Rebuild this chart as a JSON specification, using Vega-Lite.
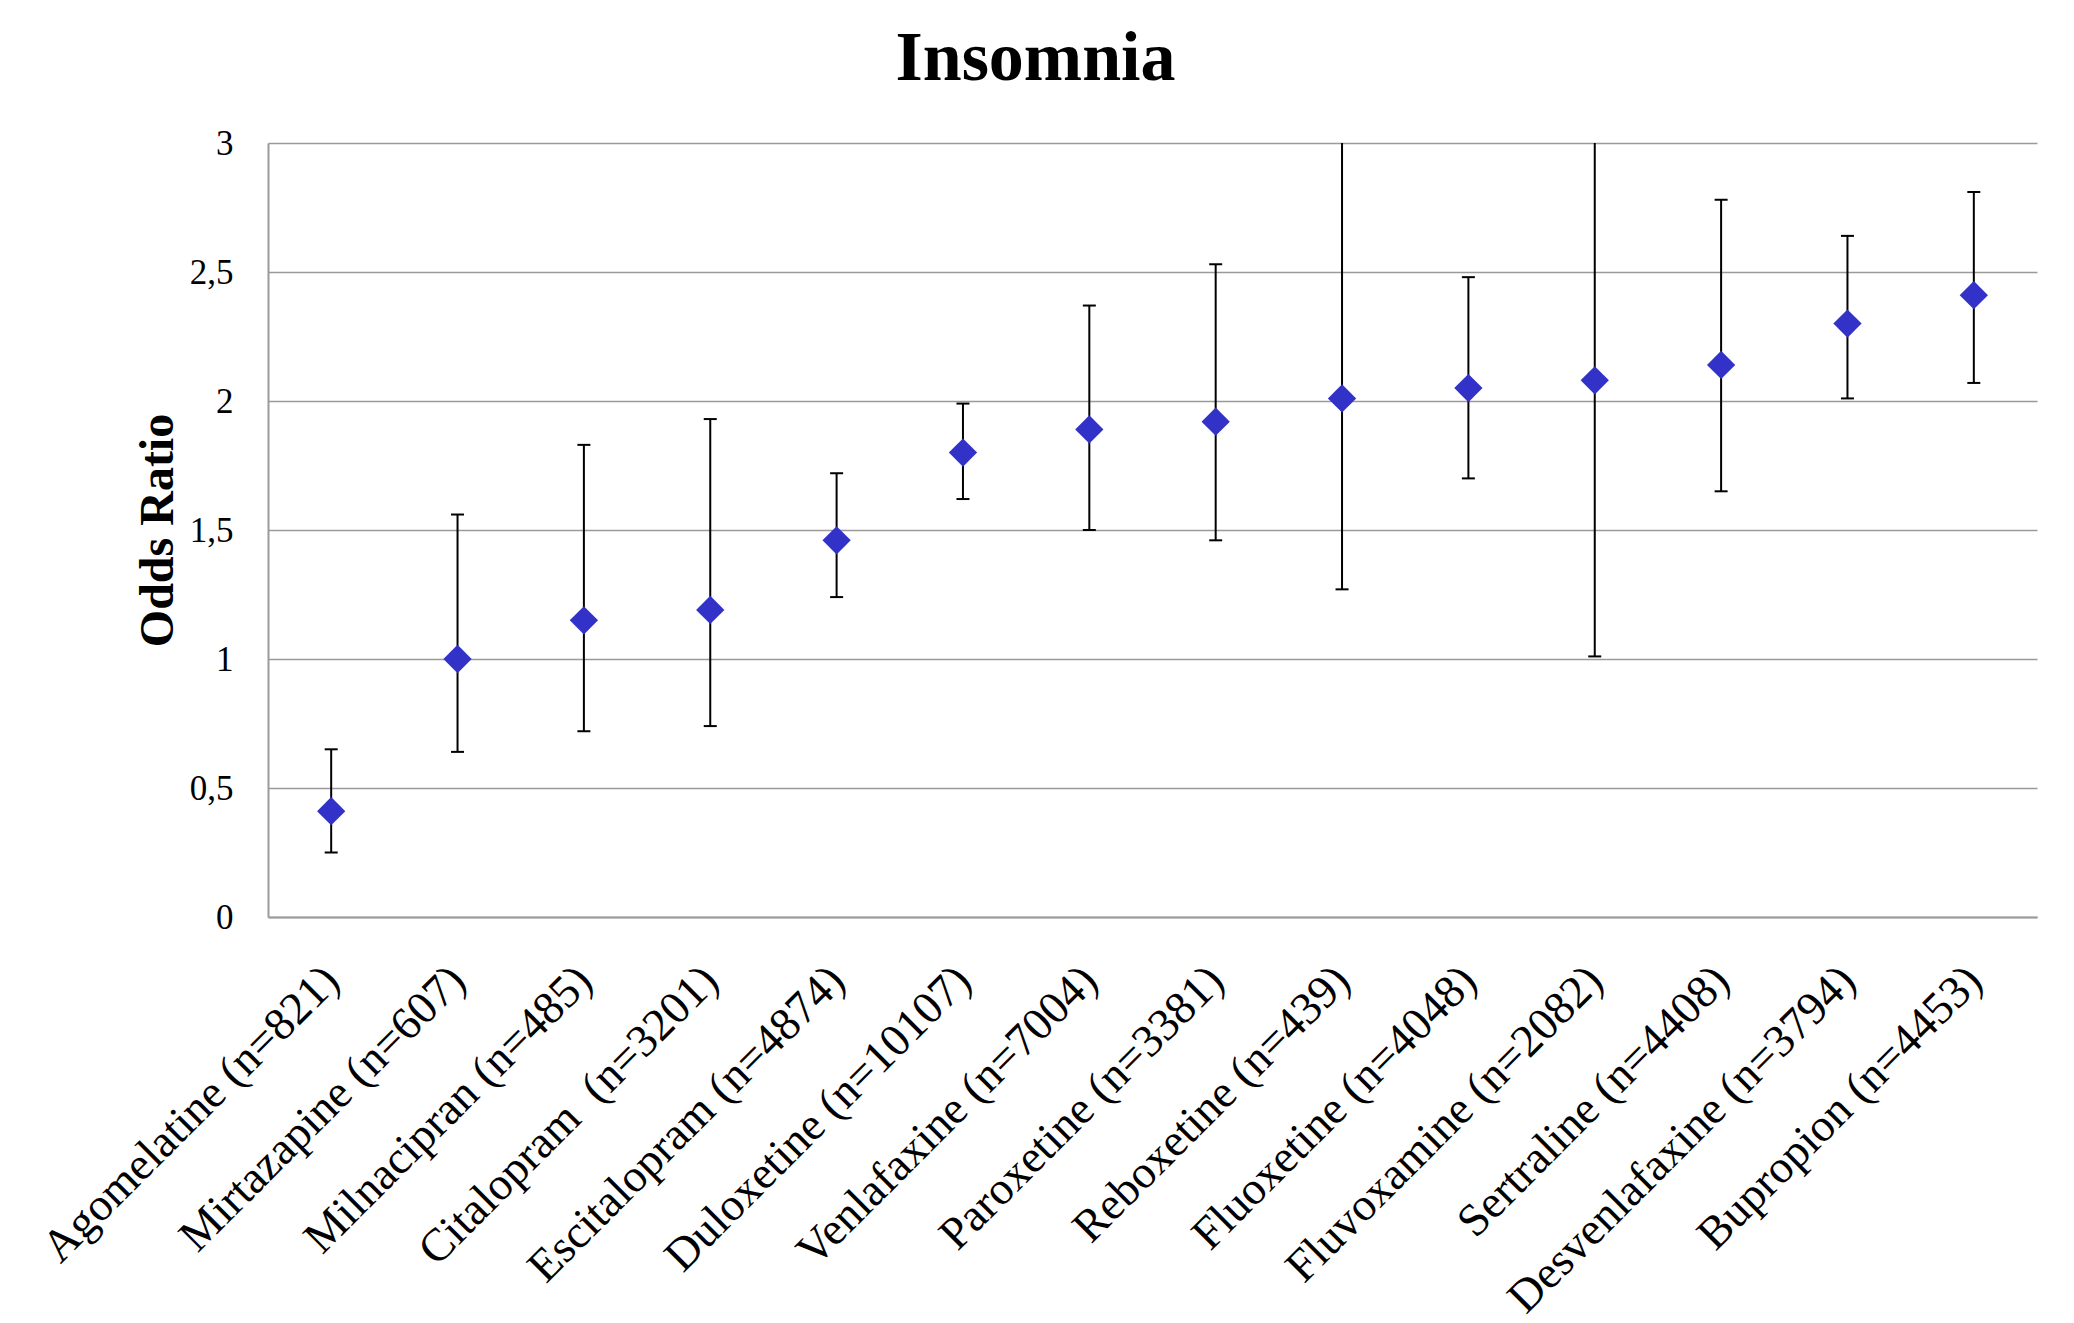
{
  "$schema": "https://vega.github.io/schema/vega-lite/v6.json",
  "autosize": {"type": "none"},
  "padding": {"left": 268, "top": 143, "right": 37, "bottom": 406},
  "width": 1769,
  "height": 774,
  "background": "white",
  "title": {
    "text": "Insomnia",
    "font": "Liberation Serif",
    "fontSize": 70,
    "fontWeight": "bold",
    "color": "black",
    "anchor": "middle",
    "baseline": "alphabetic",
    "offset": -24,
    "dx": -117
  },
  "config": {
    "view": {"stroke": null},
    "axis": {"labelFont": "Liberation Serif", "titleFont": "Liberation Serif"}
  },
  "data": {
    "values": [
      {"drug": "Agomelatine (n=821)", "or": 0.41, "lo": 0.25, "hi": 0.65},
      {"drug": "Mirtazapine (n=607)", "or": 1.00, "lo": 0.64, "hi": 1.56},
      {"drug": "Milnacipran (n=485)", "or": 1.15, "lo": 0.72, "hi": 1.83},
      {"drug": "Citalopram \u00a0(n=3201)", "or": 1.19, "lo": 0.74, "hi": 1.93},
      {"drug": "Escitalopram (n=4874)", "or": 1.46, "lo": 1.24, "hi": 1.72},
      {"drug": "Duloxetine (n=10107)", "or": 1.80, "lo": 1.62, "hi": 1.99},
      {"drug": "Venlafaxine (n=7004)", "or": 1.89, "lo": 1.50, "hi": 2.37},
      {"drug": "Paroxetine (n=3381)", "or": 1.92, "lo": 1.46, "hi": 2.53},
      {"drug": "Reboxetine (n=439)", "or": 2.01, "lo": 1.27, "hi": 3.18},
      {"drug": "Fluoxetine (n=4048)", "or": 2.05, "lo": 1.70, "hi": 2.48},
      {"drug": "Fluvoxamine (n=2082)", "or": 2.08, "lo": 1.01, "hi": 4.28},
      {"drug": "Sertraline (n=4408)", "or": 2.14, "lo": 1.65, "hi": 2.78},
      {"drug": "Desvenlafaxine (n=3794)", "or": 2.30, "lo": 2.01, "hi": 2.64},
      {"drug": "Bupropion (n=4453)", "or": 2.41, "lo": 2.07, "hi": 2.81}
    ]
  },
  "encoding": {
    "x": {
      "field": "drug",
      "type": "nominal",
      "sort": null,
      "scale": {"type": "point", "padding": 0.5},
      "axis": {
        "title": null,
        "labelAngle": -45,
        "labelAlign": "right",
        "labelBaseline": "middle",
        "labelFontSize": 46,
        "labelColor": "black",
        "labelPadding": 56,
        "labelLimit": 2000,
        "labelOverlap": false,
        "ticks": false,
        "domainColor": "#9a9a9a",
        "domainWidth": 2,
        "grid": false
      }
    }
  },
  "layer": [
    {
      "mark": {"type": "rule", "color": "black", "strokeWidth": 2},
      "encoding": {
        "y": {
          "field": "lo",
          "type": "quantitative",
          "scale": {"domain": [0, 3], "nice": false, "clamp": true},
          "axis": {
            "title": "Odds Ratio",
            "titleFontSize": 48,
            "titleFontWeight": "bold",
            "titleColor": "black",
            "titleAngle": -90,
            "titleAlign": "center",
            "titleBaseline": "alphabetic",
            "titleX": -96,
            "titleY": 387,
            "values": [0, 0.5, 1, 1.5, 2, 2.5, 3],
            "labelExpr": "replace(toString(datum.value), '.', ',')",
            "labelFontSize": 35,
            "labelColor": "black",
            "labelPadding": 35,
            "ticks": false,
            "domainColor": "#9a9a9a",
            "domainWidth": 2,
            "gridColor": "#9a9a9a",
            "gridWidth": 1.6
          }
        },
        "y2": {"field": "hi"}
      }
    },
    {
      "mark": {"type": "tick", "color": "black", "size": 13, "thickness": 2, "opacity": 1},
      "encoding": {"y": {"field": "lo", "type": "quantitative"}}
    },
    {
      "transform": [{"filter": "datum.hi <= 3"}],
      "mark": {"type": "tick", "color": "black", "size": 13, "thickness": 2, "opacity": 1},
      "encoding": {"y": {"field": "hi", "type": "quantitative"}}
    },
    {
      "mark": {"type": "point", "shape": "diamond", "filled": true, "size": 800, "color": "#3232C8", "opacity": 1},
      "encoding": {"y": {"field": "or", "type": "quantitative"}}
    }
  ]
}
